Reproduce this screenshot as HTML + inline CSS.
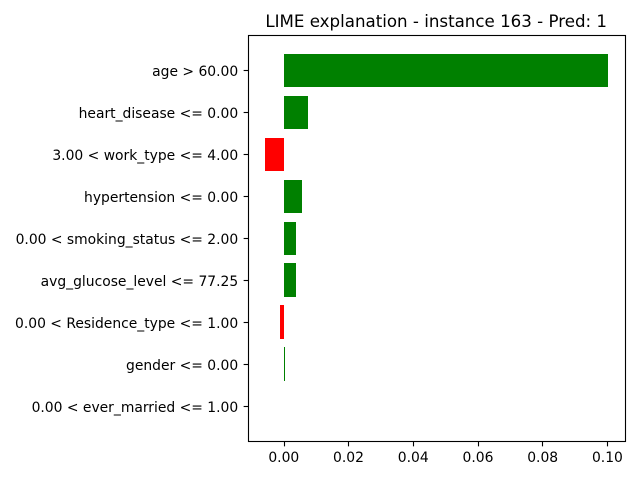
<!DOCTYPE html>
<html>
<head>
<meta charset="utf-8">
<title>LIME explanation</title>
<style>
html, body { margin: 0; padding: 0; background: #fff; width: 640px; height: 480px; overflow: hidden; }
svg { display: block; }
text { font-family: "DejaVu Sans", "Liberation Sans", sans-serif; fill: #000; }
</style>
</head>
<body>
<svg id="chart" width="640" height="480" viewBox="0 0 640 480" xmlns="http://www.w3.org/2000/svg">
  <rect x="0" y="0" width="640" height="480" fill="#fff"/>
  <text x="436.2" y="27" text-anchor="middle" font-size="16.67">LIME explanation - instance 163 - Pred: 1</text>
  <g id="bars"></g>
  <g id="x-axis"></g>
  <g id="y-axis"></g>
  <g id="spines"></g>
</svg>
<script>
var categories = ["age > 60.00", "heart_disease <= 0.00", "3.00 < work_type <= 4.00", "hypertension <= 0.00", "0.00 < smoking_status <= 2.00", "avg_glucose_level <= 77.25", "0.00 < Residence_type <= 1.00", "gender <= 0.00", "0.00 < ever_married <= 1.00"];
var values = [0.1002, 0.0075, -0.0057, 0.0056, 0.0037, 0.0037, -0.0012, 0.0003, 0.0];
var xTickValues = [0, 0.02, 0.04, 0.06, 0.08, 0.1];
var xTickLabels = ["0.00", "0.02", "0.04", "0.06", "0.08", "0.10"];

var NS = "http://www.w3.org/2000/svg";
var plot = { left: 248.5, right: 625.5, top: 35.5, bottom: 441.5 };

var vMin = Math.min.apply(null, values.concat([0]));
var vMax = Math.max.apply(null, values.concat([0]));
var xPad = (vMax - vMin) * 0.05;
var xMin = vMin - xPad;
var xMax = vMax + xPad;
function xScale(v) {
  return plot.left + (v - xMin) / (xMax - xMin) * (plot.right - plot.left);
}

var yPad = 0.44;
var yMin = -0.4 - yPad;
var yMax = categories.length - 1 + 0.4 + yPad;
function yScale(i) {
  return 35.3 + (i - yMin) / (yMax - yMin) * 406;
}

function make(tag, parent) {
  var el = document.createElementNS(NS, tag);
  parent.appendChild(el);
  return el;
}

var barsGroup = document.getElementById("bars");
var xAxisGroup = document.getElementById("x-axis");
var yAxisGroup = document.getElementById("y-axis");
var spinesGroup = document.getElementById("spines");

values.forEach(function (v, i) {
  var x0 = Math.floor(xScale(Math.min(v, 0)));
  var x1 = Math.round(xScale(Math.max(v, 0)));
  var top = Math.round(yScale(i - 0.4));
  var bottom = Math.round(yScale(i + 0.4));
  var bar = make("rect", barsGroup);
  
  
  bar.setAttribute("x", x0);
  bar.setAttribute("y", top);
  bar.setAttribute("width", x1 - x0);
  bar.setAttribute("height", bottom - top);
  bar.setAttribute("fill", v > 0 ? "#008000" : "#ff0000");
});

xTickValues.forEach(function (t, i) {
  var px = Math.round(xScale(t) - 0.5) + 0.5;
  var tick = make("line", xAxisGroup);
  
  
  tick.setAttribute("x1", px);
  tick.setAttribute("x2", px);
  tick.setAttribute("y1", plot.bottom);
  tick.setAttribute("y2", plot.bottom + 4.86);
  tick.setAttribute("stroke", "#000");
  tick.setAttribute("stroke-width", "1.11");
  var label = make("text", xAxisGroup);
  
  
  label.setAttribute("x", xScale(t) - 0.3);
  label.setAttribute("y", 462);
  label.setAttribute("text-anchor", "middle");
  label.setAttribute("font-size", "13.89");
  label.textContent = xTickLabels[i];
});

categories.forEach(function (name, i) {
  var row = Math.floor(yScale(i) + 0.2);
  var tick = make("line", yAxisGroup);
  
  
  tick.setAttribute("x1", plot.left - 4.86);
  tick.setAttribute("x2", plot.left);
  tick.setAttribute("y1", row + 0.5);
  tick.setAttribute("y2", row + 0.5);
  tick.setAttribute("stroke", "#000");
  tick.setAttribute("stroke-width", "1.11");
  var label = make("text", yAxisGroup);
  
  
  label.setAttribute("x", plot.left - 10.3);
  label.setAttribute("y", row + 6);
  label.setAttribute("text-anchor", "end");
  label.setAttribute("font-size", "13.89");
  label.textContent = name;
});

var frame = make("rect", spinesGroup);


frame.setAttribute("x", plot.left);
frame.setAttribute("y", plot.top);
frame.setAttribute("width", plot.right - plot.left);
frame.setAttribute("height", plot.bottom - plot.top);
frame.setAttribute("fill", "none");
frame.setAttribute("stroke", "#000");
frame.setAttribute("stroke-width", "1.11");
</script>
</body>
</html>
